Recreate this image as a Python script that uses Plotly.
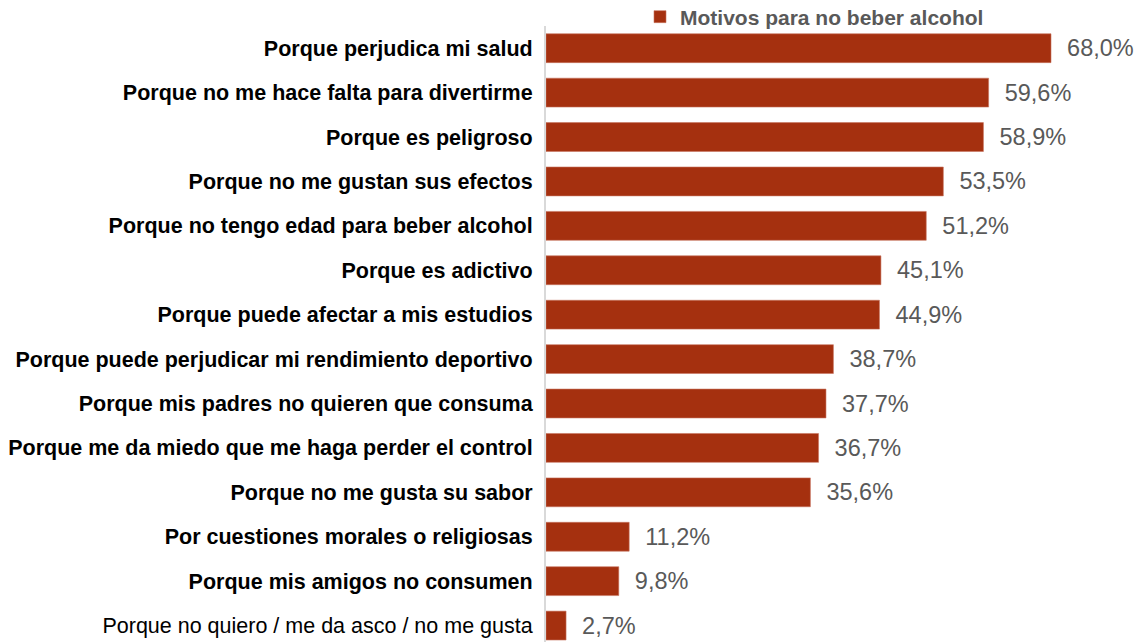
import plotly.graph_objects as go

categories = [
    "Porque perjudica mi salud",
    "Porque no me hace falta para divertirme",
    "Porque es peligroso",
    "Porque no me gustan sus efectos",
    "Porque no tengo edad para beber alcohol",
    "Porque es adictivo",
    "Porque puede afectar a mis estudios",
    "Porque puede perjudicar mi rendimiento deportivo",
    "Porque mis padres no quieren que consuma",
    "Porque me da miedo que me haga perder el control",
    "Porque no me gusta su sabor",
    "Por cuestiones morales o religiosas",
    "Porque mis amigos no consumen",
    "Porque no quiero / me da asco / no me gusta",
]
values = [68.0, 59.6, 58.9, 53.5, 51.2, 45.1, 44.9, 38.7, 37.7, 36.7, 35.6, 11.2, 9.8, 2.7]
bold_labels = [True] * 13 + [False]
series_name = "Motivos para no beber alcohol"

FONT = "Liberation Sans, Arial, sans-serif"
BAR_COLOR = "#A5300F"

positions = list(range(len(categories)))
ticktext = [f"<b>{c}</b>" if b else c for c, b in zip(categories, bold_labels)]
value_text = ["\u00a0\u00a0" + f"{v:.1f}".replace(".", ",") + "%" for v in values]

fig = go.Figure()
fig.add_trace(go.Bar(
    x=values,
    y=positions,
    orientation="h",
    width=0.65,
    name=series_name,
    marker=dict(color=BAR_COLOR, line=dict(color="#C8745F", width=0.6)),
    text=value_text,
    textposition="outside",
    constraintext="none",
    cliponaxis=False,
    textfont=dict(family=FONT, size=23.5, color="#595959"),
    showlegend=True,
))

fig.update_layout(
    width=1138,
    height=642,
    margin=dict(l=546, r=0, t=26, b=0, autoexpand=False),
    paper_bgcolor="white",
    plot_bgcolor="white",
    font=dict(family=FONT, size=21, color="#000000"),
    showlegend=True,
    legend=dict(
        orientation="h",
        x=(640 - 546) / 592,
        xanchor="left",
        y=1.0 + 9 / 616,
        yanchor="middle",
        font=dict(family=FONT, size=21, color="#595959", weight="bold"),
        bgcolor="rgba(0,0,0,0)",
        itemwidth=30,
    ),
    xaxis=dict(
        range=[0, 592 / (505 / 68.0)],
        showgrid=False,
        zeroline=False,
        showticklabels=False,
        showline=False,
        automargin=False,
    ),
    yaxis=dict(
        range=[13.37, -0.5],
        tickmode="array",
        tickvals=positions,
        ticktext=ticktext,
        showgrid=False,
        zeroline=False,
        showline=True,
        linecolor="#D9D9D9",
        linewidth=2,
        ticks="",
        ticklabelstandoff=7,
        automargin=False,
        tickfont=dict(family=FONT, size=21.5, color="#000000"),
    ),
)

fig.write_html(
    "out.html",
    config={"displayModeBar": False},
    post_script="document.body.style.margin='0';document.body.style.overflow='hidden';",
)
